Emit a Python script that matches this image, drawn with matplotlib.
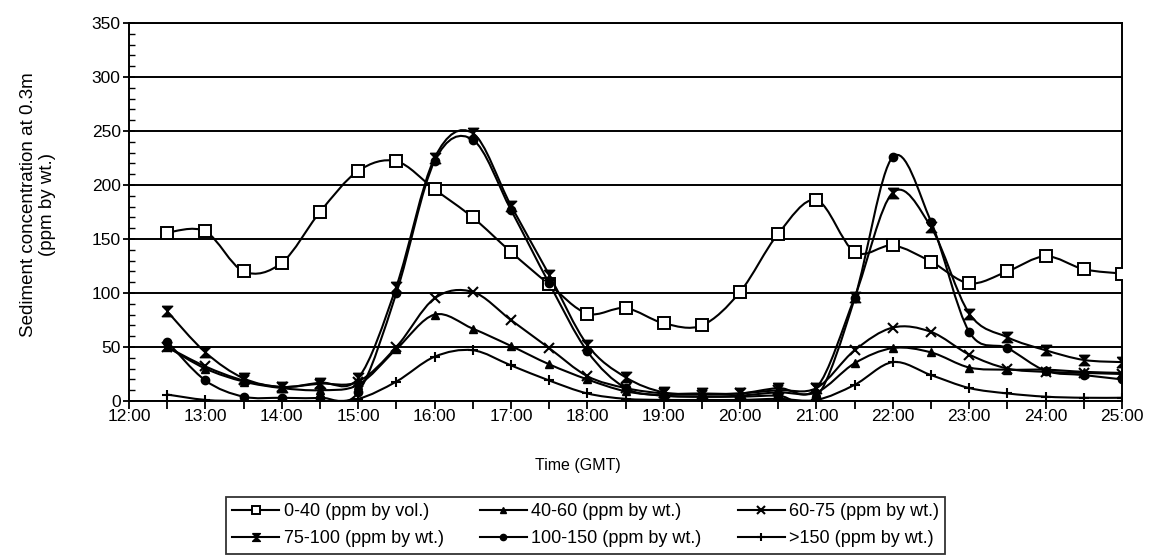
import numpy as np
import matplotlib.pyplot as plt
from matplotlib.path import Path
from matplotlib.patches import PathPatch
from matplotlib.lines import Line2D

plt.rcParams['font.family'] = ['Liberation Sans', 'DejaVu Sans']

# sampling times (decimal hours GMT)
times = [12.5, 13.0, 13.5, 14.0, 14.5, 15.0, 15.5, 16.0, 16.5, 17.0, 17.5, 18.0, 18.5,
         19.0, 19.5, 20.0, 20.5, 21.0, 21.5, 22.0, 22.5, 23.0, 23.5, 24.0, 24.5, 25.0]

# sediment concentration at 0.3 m for each size class
c_0_40 = [156, 157, 120, 128, 175, 213, 222, 196, 170, 138, 108, 81, 86,
          72, 70, 101, 155, 186, 138, 144, 129, 109, 120, 134, 122, 118]
c_40_60 = [50, 30, 18, 12, 10, 15, 48, 80, 67, 51, 34, 20, 9,
           5, 4, 5, 8, 8, 35, 49, 45, 31, 29, 29, 27, 26]
c_60_75 = [50, 32, 19, 13, 16, 18, 50, 95, 101, 75, 49, 23, 12,
           7, 6, 7, 10, 12, 47, 68, 64, 43, 30, 27, 26, 25]
c_75_100 = [83, 45, 21, 13, 17, 21, 106, 225, 248, 181, 117, 52, 22,
            8, 7, 7, 12, 12, 96, 193, 161, 81, 59, 47, 38, 36]
c_100_150 = [55, 19, 4, 3, 3, 8, 100, 222, 242, 177, 109, 46, 12,
             5, 4, 4, 5, 3, 95, 226, 166, 64, 49, 28, 24, 20]
c_150 = [6, 1, 0, 0, 0, 2, 18, 41, 47, 33, 19, 7, 2,
         1, 1, 1, 2, 1, 15, 36, 24, 12, 7, 4, 3, 3]

labels = ['0-40 (ppm by vol.)', '40-60 (ppm by wt.)', '60-75 (ppm by wt.)',
          '75-100 (ppm by wt.)', '100-150 (ppm by wt.)', '>150 (ppm by wt.)']

hourglass = [(-1, 1), (1, 1), (-1, -1), (1, -1), (-1, 1)]

styles = [
    dict(marker='s', ms=8.5, mfc='white', mew=1.4),
    dict(marker='^', ms=6, mfc='black', mew=1.0),
    dict(marker='x', ms=7, mfc='black', mew=1.5),
    dict(marker=hourglass, ms=7.5, mfc='black', mew=1.0),
    dict(marker='o', ms=6, mfc='black', mew=1.0),
    dict(marker='+', ms=7.5, mfc='black', mew=1.5),
]


def smooth_path(x, y):
    # Catmull-Rom curve through the points, as cubic Bezier segments
    x = np.asarray(x, float)
    y = np.asarray(y, float)
    p = np.column_stack([x, y])
    n = len(p)
    verts = [p[0]]
    codes = [Path.MOVETO]
    for i in range(n - 1):
        p0 = p[i - 1] if i > 0 else p[i]
        p3 = p[i + 2] if i + 2 < n else p[i + 1]
        c1 = p[i] + (p[i + 1] - p0) / 6.0
        c2 = p[i + 1] - (p3 - p[i]) / 6.0
        verts += [c1, c2, p[i + 1]]
        codes += [Path.CURVE4] * 3
    return Path(verts, codes)


fig = plt.figure(figsize=(11.53, 5.59), dpi=100)
ax = fig.add_axes([129 / 1153, 1 - 401 / 559, (1122 - 129) / 1153, (401 - 23) / 559])

series = [c_0_40, c_40_60, c_60_75, c_75_100, c_100_150, c_150]
handles = []
for vals, st, lab in zip(series, styles, labels):
    ax.add_patch(PathPatch(smooth_path(times, vals), fill=False, ec='black', lw=1.5, zorder=3))
    ax.plot(times, vals, ls='none', color='black', mec='black', zorder=4, **st)
    handles.append(Line2D([], [], color='black', lw=1.5, mec='black',
                          **{**st, 'ms': st['ms'] * 0.75}))

ax.set_xlim(12, 25)
ax.set_ylim(0, 350)
ax.set_yticks(np.arange(0, 351, 50))
ax.set_yticks(np.arange(0, 351, 10), minor=True)
ax.set_xticks(np.arange(12, 25.01, 1))
ax.set_xticks(np.arange(12, 25.01, 0.5), minor=True)
ax.set_xticklabels(['%d:00' % h for h in range(12, 26)])
ax.grid(axis='y', which='major', color='black', lw=1.4)
ax.set_axisbelow(True)
for s in ax.spines.values():
    s.set_linewidth(1.4)
ax.tick_params(axis='y', which='major', direction='inout', length=8, width=1.3,
               labelsize=12.5, pad=2)
ax.tick_params(axis='y', which='minor', direction='in', length=4, width=1.0)
ax.tick_params(axis='x', which='both', direction='out', length=6, width=1.3,
               labelsize=12.5, pad=0)

ax.set_xlabel('Time (GMT)', fontsize=11.5)
ax.xaxis.set_label_coords((578 - 129) / 993, (401 - 458) / 378)
ax.set_ylabel('Sediment concentration at 0.3m\n(ppm by wt.)', fontsize=13.5,
              linespacing=1.15)
ax.yaxis.set_label_coords((56 - 129) / 993, (401 - 205) / 378)

order = [0, 3, 1, 4, 2, 5]
leg = fig.legend([handles[i] for i in order], [labels[i] for i in order], ncol=3,
                 loc='upper left', bbox_to_anchor=(226 / 1153, 1 - 497 / 559),
                 fontsize=13, frameon=True, fancybox=False, edgecolor='black',
                 handlelength=2.6, handletextpad=0.25, columnspacing=2.0,
                 labelspacing=0.55, borderpad=0.35, borderaxespad=0)
leg.get_frame().set_linewidth(1.3)

fig.savefig('out.png', dpi=100)
